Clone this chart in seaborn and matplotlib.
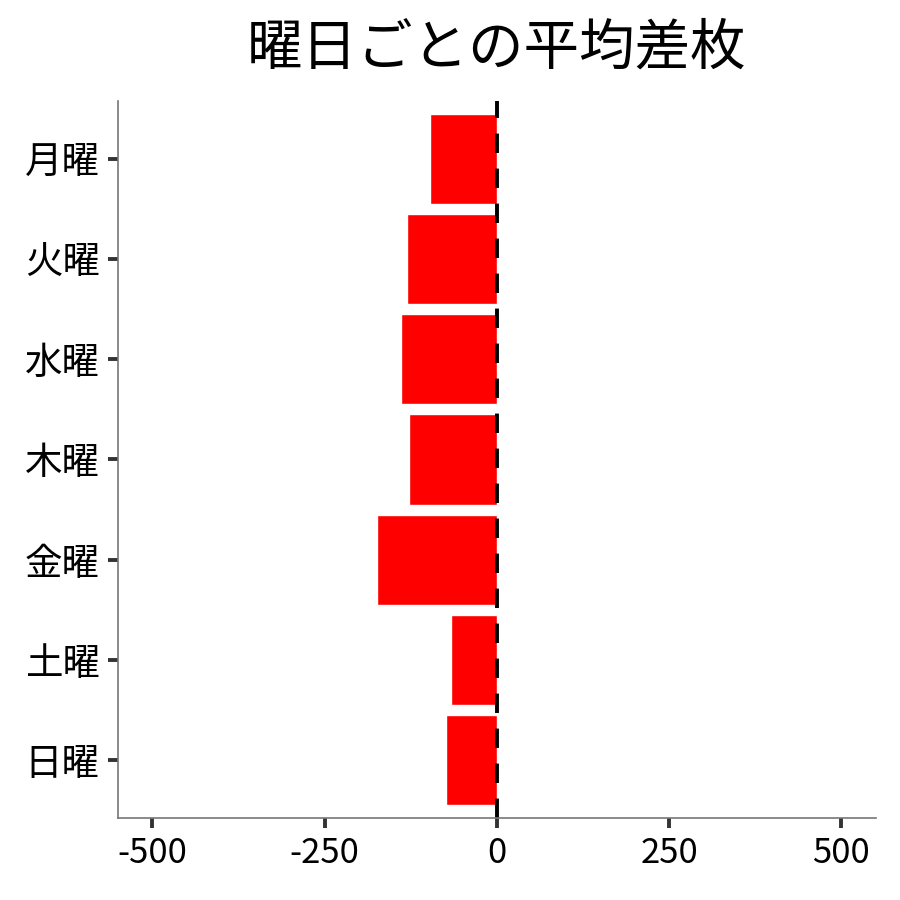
import pandas as pd
import matplotlib
matplotlib.use('Agg')
import matplotlib.pyplot as plt
import seaborn as sns

# 曜日ごとの平均差枚
days = ['月曜', '火曜', '水曜', '木曜', '金曜', '土曜', '日曜']
avg_diff = [-97, -130, -139, -128, -174, -67, -74]

df = pd.DataFrame({'day': days, 'diff': avg_diff})

sns.set_theme(style='white')
plt.rcParams['font.family'] = ['Noto Sans CJK JP', 'DejaVu Sans']
plt.rcParams['axes.unicode_minus'] = False
plt.rcParams['text.color'] = 'black'
plt.rcParams['xtick.labelcolor'] = 'black'
plt.rcParams['ytick.labelcolor'] = 'black'

fig = plt.figure(figsize=(9, 9), dpi=100)
ax = fig.add_axes([0.131, 0.091, 0.842, 0.797])

sns.barplot(data=df, x='diff', y='day', color='#ff0000', saturation=1,
            width=0.9, ax=ax)
ax.axvline(0, color='black', linewidth=2.8, linestyle=(0, (5, 4)))

ax.set_xlim(-550, 550)
ax.set_ylim(6.58, -0.58)
ax.set_xticks([-500, -250, 0, 250, 500])
ax.set_xticklabels(['-500', '-250', '0', '250', '500'])
ax.set_xlabel('')
ax.set_ylabel('')
ax.set_title('曜日ごとの平均差枚', fontsize=40, pad=26, color='black')

ax.tick_params(axis='both', which='major', length=7, width=2.8,
               color='#333333', direction='out', pad=6, left=True, bottom=True)
ax.tick_params(axis='x', labelsize=25)
ax.tick_params(axis='y', labelsize=27)
sns.despine(ax=ax)
for s in ['left', 'bottom']:
    ax.spines[s].set_color('#777777')
    ax.spines[s].set_linewidth(1.2)

plt.savefig('out.png', dpi=100)
